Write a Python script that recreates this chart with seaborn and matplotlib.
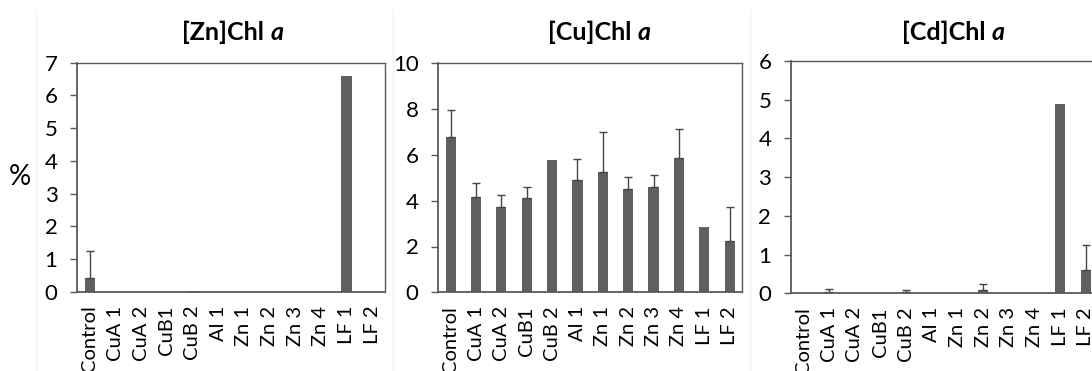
import matplotlib
matplotlib.use("Agg")
import matplotlib.pyplot as plt
from matplotlib.lines import Line2D
from matplotlib.offsetbox import TextArea, HPacker, AnnotationBbox
import numpy as np
import pandas as pd
import seaborn as sns

# Treatment groups (x axis, shared by all three panels)
categories = ["Control", "CuA 1", "CuA 2", "CuB1", "CuB 2", "Al 1",
              "Zn 1", "Zn 2", "Zn 3", "Zn 4", "LF 1", "LF 2"]

# Share of each metallo-chlorophyll (%), mean and upper error
zn_values = [0.43, 0, 0, 0, 0.03, 0, 0, 0, 0, 0, 6.6, 0]
zn_errors = [0.82, 0, 0, 0, 0, 0, 0, 0, 0, 0, 0, 0]

cu_values = [6.78, 4.16, 3.72, 4.11, 5.76, 4.89, 5.27, 4.50, 4.60, 5.86, 2.86, 2.23]
cu_errors = [1.20, 0.63, 0.54, 0.49, 0, 0.91, 1.73, 0.54, 0.54, 1.25, 0, 1.50]

cd_values = [0, 0.03, 0, 0, 0.03, 0, 0, 0.09, 0, 0, 4.90, 0.60]
cd_errors = [0, 0.07, 0, 0, 0.05, 0, 0, 0.16, 0, 0, 0, 0.66]

panel_metals = ["Zn", "Cu", "Cd"]
panel_ymax = [7, 10, 6]
panel_ystep = [1, 2, 1]

sns.set_theme(style="white")
plt.rcParams["font.family"] = ["Lato", "DejaVu Sans"]

W, H = 1092, 371
fig = plt.figure(figsize=(W / 100, H / 100), dpi=100)

BAR = "#5f5f5f"
LINE = "#595959"

# plot-area boxes in pixels: left, right, top, bottom
boxes = [(77, 385, 62.7, 291.7), (438, 742.3, 63.3, 292.3), (790.7, 1098.5, 61, 293.3)]
title_x = [233, 599, 953]

# faint chart-area borders
for xl in (36, 393, 750):
    fig.add_artist(Line2D([xl / W, xl / W], [0, 1 - 10 / H], transform=fig.transFigure,
                          color="#f2f2f2", lw=1))

series = [(zn_values, zn_errors), (cu_values, cu_errors), (cd_values, cd_errors)]

for i, ((vals, errs), metal) in enumerate(zip(series, panel_metals)):
    l, r, t, b = boxes[i]
    ax = fig.add_axes([l / W, 1 - b / H, (r - l) / W, (b - t) / H])
    df = pd.DataFrame({"group": categories, "value": vals, "err": errs})
    sns.barplot(data=df, x="group", y="value", color=BAR, width=0.4,
                saturation=1, errorbar=None, ax=ax, edgecolor="none")
    pos = np.arange(len(categories))
    m = df["err"].to_numpy() > 0
    ax.errorbar(pos[m], df["value"].to_numpy()[m],
                yerr=[np.zeros(m.sum()), df["err"].to_numpy()[m]],
                fmt="none", ecolor="#444444", elinewidth=1, capsize=3, capthick=1)
    ax.set_xlim(-0.5, len(categories) - 0.5)
    ax.set_ylim(0, panel_ymax[i])
    ax.set_yticks(np.arange(0, panel_ymax[i] + 0.01, panel_ystep[i]))
    ax.set_xlabel("")
    ax.set_ylabel("")
    ax.tick_params(axis="y", which="both", left=True, direction="out", length=5,
                   width=1, color=LINE, pad=9, labelsize=16, labelcolor="black")
    ax.tick_params(axis="x", bottom=False, length=0, pad=10, labelsize=14.5,
                   labelcolor="black")
    for lab in ax.get_xticklabels():
        lab.set_rotation(90)
        lab.set_va("top")
        lab.set_ha("center")
    for side, sp in ax.spines.items():
        sp.set_visible(True)
        sp.set_color(LINE)
        sp.set_linewidth(1.3 if side in ("left", "bottom") else 1.0)

    # title: bold "[X]Chl" followed by bold italic "a"
    t1 = TextArea(f"[{metal}]Chl ", textprops=dict(fontsize=18, fontweight="bold",
                                                    color="black", family="Lato"))
    t2 = TextArea("a", textprops=dict(fontsize=18, fontweight="bold", fontstyle="italic",
                                      color="black", family="Lato"))
    pack = HPacker(children=[t1, t2], align="baseline", pad=0, sep=0)
    ab = AnnotationBbox(pack, (title_x[i] / W, 1 - 32 / H), xycoords="figure fraction",
                        box_alignment=(0.5, 0.5), frameon=False)
    fig.add_artist(ab)

fig.text(20 / W, 1 - 177 / H, "%", fontsize=20, ha="center", va="center", color="black")

fig.savefig("out.png", dpi=100)
